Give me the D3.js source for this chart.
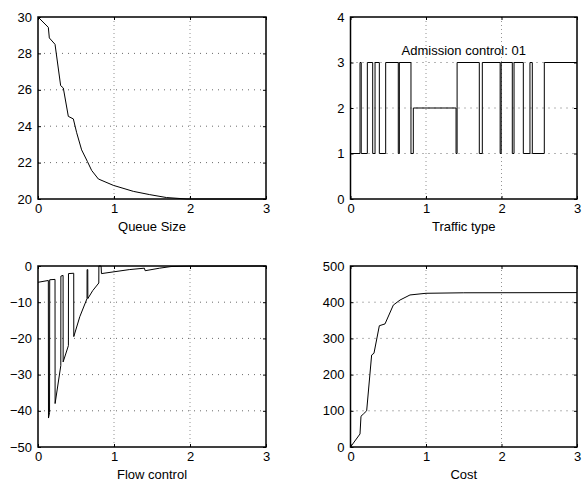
<!DOCTYPE html>
<html>
<head>
<meta charset="utf-8">
<script src="https://cdn.jsdelivr.net/npm/d3@7/dist/d3.min.js"></script>
<style>
  body { margin: 0; background: #fff; }
  text { font-family: "Liberation Sans", Arial, sans-serif; font-size: 13px; fill: #000; }
</style>
</head>
<body>
<svg id="fig" width="586" height="482"></svg>
<script>
// Queue size
const queueT = [0, 0.136, 0.149, 0.224, 0.298, 0.333, 0.399, 0.465, 0.509, 0.574, 0.649, 0.706, 0.794, 0.991, 1.254, 1.47, 1.69, 1.96, 3];
const queueV = [30, 29.43, 28.85, 28.5, 26.23, 26.1, 24.54, 24.4, 23.64, 22.7, 22.07, 21.57, 21.1, 20.75, 20.42, 20.24, 20.08, 20.0, 20.0];

// Traffic type (step changes)
const trafficT = [0, 0.126, 0.142, 0.223, 0.294, 0.325, 0.382, 0.466, 0.633, 0.647, 0.801, 0.832, 1.398, 1.412, 1.706, 1.746, 1.982, 1.996, 2.143, 2.166, 2.289, 2.377, 2.408, 2.567, 3];
const trafficV = [1, 3, 1, 3, 1, 3, 1, 3, 1, 3, 1, 2, 1, 3, 1, 3, 1, 3, 1, 3, 1, 3, 1, 3, 3];

// Flow control
const flowT = [0, 0.136, 0.138, 0.152, 0.154, 0.224, 0.225, 0.30, 0.301, 0.33, 0.331, 0.40, 0.401, 0.47, 0.471, 0.55, 0.645, 0.646, 0.655, 0.656, 0.72, 0.80, 0.801, 0.83, 0.835, 1.0, 1.2, 1.40, 1.41, 1.6, 1.75, 2.0, 3.0];
const flowV = [-4.5, -4.0, -42, -40.5, -3.8, -3.7, -38, -27.5, -2.8, -2.6, -26.5, -22, -2.1, -2.0, -19.5, -14, -9, -1, -1, -9, -6.8, -4.7, 0, 0, -2.1, -1.6, -1.0, -0.6, -1.3, -0.6, -0.15, -0.05, 0];

// Cost
const costT = [0, 0.126, 0.139, 0.170, 0.214, 0.280, 0.311, 0.382, 0.457, 0.567, 0.656, 0.788, 1.0, 1.5, 3];
const costV = [0, 36, 85, 91, 100, 254, 259, 335, 340, 392, 406, 420, 424.6, 426, 426.5];

const xTicks = [0, 1, 2, 3];
const panels = [
  { left: 38, top: 17, right: 266, bottom: 199, yDomain: [20, 30], yTicks: [20, 22, 24, 26, 28, 30], label: 'Queue Size', t: queueT, v: queueV },
  { left: 350.5, top: 17, right: 577, bottom: 199, yDomain: [0, 4], yTicks: [0, 1, 2, 3, 4], label: 'Traffic type', t: trafficT, v: trafficV, step: true, note: 'Admission control: 01' },
  { left: 38, top: 266, right: 266, bottom: 447, yDomain: [-50, 0], yTicks: [-50, -40, -30, -20, -10, 0], label: 'Flow control', t: flowT, v: flowV },
  { left: 350.5, top: 266, right: 577, bottom: 447, yDomain: [0, 500], yTicks: [0, 100, 200, 300, 400, 500], label: 'Cost', t: costT, v: costV }
];

const svg = d3.select('#fig');
svg.append('rect').attr('width', 586).attr('height', 482).attr('fill', '#fff');

panels.forEach(p => drawPanel(p));

function drawPanel(p) {
  const x = d3.scaleLinear().domain([0, 3]).range([p.left, p.right]);
  const y = d3.scaleLinear().domain(p.yDomain).range([p.bottom, p.top]);
  const g = svg.append('g');

  // dotted grid
  g.selectAll('.vg').data(xTicks.slice(1, -1)).enter().append('line')
    .attr('x1', d => x(d)).attr('x2', d => x(d))
    .attr('y1', p.top).attr('y2', p.bottom)
    .attr('stroke', '#777').attr('stroke-width', 0.8).attr('stroke-dasharray', '1,3');
  g.selectAll('.hg').data(p.yTicks.slice(1, -1)).enter().append('line')
    .attr('y1', d => y(d)).attr('y2', d => y(d))
    .attr('x1', p.left).attr('x2', p.right)
    .attr('stroke', '#444').attr('stroke-width', 0.8).attr('stroke-dasharray', '1,5');

  // data line
  const line = d3.line()
    .x((d, i) => x(p.t[i]))
    .y(d => y(d))
    .curve(p.step ? d3.curveStepAfter : d3.curveLinear);
  g.append('path').attr('d', line(p.v))
    .attr('fill', 'none').attr('stroke', '#000').attr('stroke-width', 1);

  if (p.note) {
    g.append('text').attr('x', x(1.5)).attr('y', y(3.17))
      .attr('text-anchor', 'middle').text(p.note);
  }

  // axes with inward ticks, box on
  const ax = g.append('g').attr('transform', `translate(0,${p.bottom})`)
    .call(d3.axisBottom(x).tickValues(xTicks).tickFormat(d3.format('d')).tickSizeInner(-3).tickSizeOuter(0).tickPadding(5));
  const ay = g.append('g').attr('transform', `translate(${p.left},0)`)
    .call(d3.axisLeft(y).tickValues(p.yTicks).tickFormat(d => d < 0 ? '\u2212' + Math.abs(d) : d).tickSizeInner(-3).tickSizeOuter(0).tickPadding(6));
  g.append('g').attr('transform', `translate(0,${p.top})`)
    .call(d3.axisTop(x).tickValues(xTicks).tickFormat('').tickSizeInner(-3).tickSizeOuter(0));
  g.append('g').attr('transform', `translate(${p.right},0)`)
    .call(d3.axisRight(y).tickValues(p.yTicks).tickFormat('').tickSizeInner(-3).tickSizeOuter(0));
  g.selectAll('.domain').remove();
  g.selectAll('.tick line').attr('stroke', '#000');
  g.selectAll('.tick text').style('font-size', '13px').attr('fill', '#000');

  g.append('rect').attr('x', p.left).attr('y', p.top)
    .attr('width', p.right - p.left).attr('height', p.bottom - p.top)
    .attr('fill', 'none').attr('stroke', '#000').attr('stroke-width', 1.5);

  g.append('text').attr('x', (p.left + p.right) / 2).attr('y', p.bottom + 32)
    .attr('text-anchor', 'middle').text(p.label);
}
</script>
</body>
</html>
